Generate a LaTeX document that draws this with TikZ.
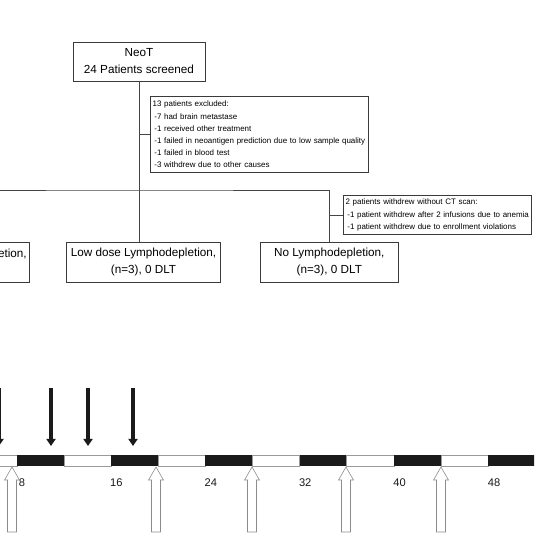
\documentclass[tikz,border=0pt]{standalone}
\usepackage{fontspec}
\setmainfont{Liberation Sans}
\usetikzlibrary{arrows.meta,positioning}

\definecolor{boxgray}{HTML}{3A3A3A}
\definecolor{linegray}{HTML}{454545}
\definecolor{barblack}{HTML}{1A1A1A}
\definecolor{bargray}{HTML}{9A9A9A}
\definecolor{arrowgray}{HTML}{8C8C8C}

\tikzset{
  infusion/.pic={
    \draw[arrowgray, fill=white, line width=0.5pt]
      (0,0) -- (7.5,13) -- (4.5,13) -- (4.5,65) -- (-4.5,65) -- (-4.5,13) -- (-7.5,13) -- cycle;
  }
}

\begin{document}
\begin{tikzpicture}[x=0.03cm, y=-0.03cm,
  armbox/.style={draw=boxgray, line width=0.7pt, minimum width=4.62cm, minimum height=1.2cm,
                 inner sep=0pt, align=center, font=\fontsize{10}{14.5}\selectfont},
  notebox/.style={draw=boxgray, line width=0.5pt, anchor=north west, inner xsep=2pt,
                  align=left, font=\fontsize{6.8}{10.3}\selectfont},
  link/.style={draw=linegray, line width=0.6pt},
  dose/.style={barblack, line width=3.4pt, -{Triangle[width=7.7pt,length=6pt]}},
  weeklabel/.style={font=\fontsize{9.5}{10}\selectfont, text=black!90}]
  \useasboundingbox (0,0) rectangle (534,534);
  \clip (0,0) rectangle (534,534);

  % flow chart
  \node[armbox, minimum width=3.96cm, minimum height=1.17cm] (neot) at (139,61.5)
    {NeoT\\24 Patients screened};
  \node[notebox, minimum height=2.28cm, text width=6.4cm] (excl) at (150,96)
    {13 patients excluded:\\
     \hspace*{1.5pt}-7 had brain metastase\\
     \hspace*{1.5pt}-1 received other treatment\\
     \hspace*{1.5pt}-1 failed in neoantigen prediction due to low sample quality\\
     \hspace*{1.5pt}-1 failed in blood test\\
     \hspace*{1.5pt}-3 withdrew due to other causes};
  \node[armbox] (lowdose) at (143.5,262) {Low dose Lymphodepletion,\\(n=3), 0 DLT};
  \node[armbox, minimum width=4.14cm] (nolymph) [right=1.17cm of lowdose]
    {No Lymphodepletion,\\(n=3), 0 DLT};
  \node[armbox, inner xsep=2pt, text width=4.5cm, align=right] (highdose) [left=1.1cm of lowdose]
    {etion,\\\mbox{}};
  \node[notebox, minimum height=1.1cm, text width=5.5cm] (wdrw) at (343,195)
    {2 patients withdrew without CT scan:\\
     \hspace*{1.5pt}-1 patient withdrew after 2 infusions due to anemia\\
     \hspace*{1.5pt}-1 patient withdrew due to enrollment violations};

  \coordinate (split) at (139,190);
  \draw[link] (neot.south) -- (neot.south |- lowdose.north);
  \draw[link] (highdose.north) |- (split) -| (nolymph.north);
  \draw[link] (split |- excl.west) -- (excl.west);
  \draw[link] (nolymph.north |- wdrw.west) -- (wdrw.west);

  % treatment time line
  \draw[bargray, fill=white, line width=0.5pt] (-40,455) rectangle (17,466);
  \foreach \i in {0,...,5} {
    \fill[barblack] (17+94.2*\i,455) rectangle +(47,11);
    \draw[bargray, fill=white, line width=0.5pt] (64+94.2*\i,455) rectangle +(47.2,11);
  }
  \foreach \w [count=\i from 0] in {8,16,...,48}
    \node[weeklabel] (wk\w) at (22+94.4*\i,483) {\w};

  \foreach \dx in {-1,51,88,133}
    \draw[dose] (\dx,388) -- (\dx,446);
  \foreach \px in {12,156,252,346,441}
    \pic at (\px,467) {infusion};
\end{tikzpicture}
\end{document}
